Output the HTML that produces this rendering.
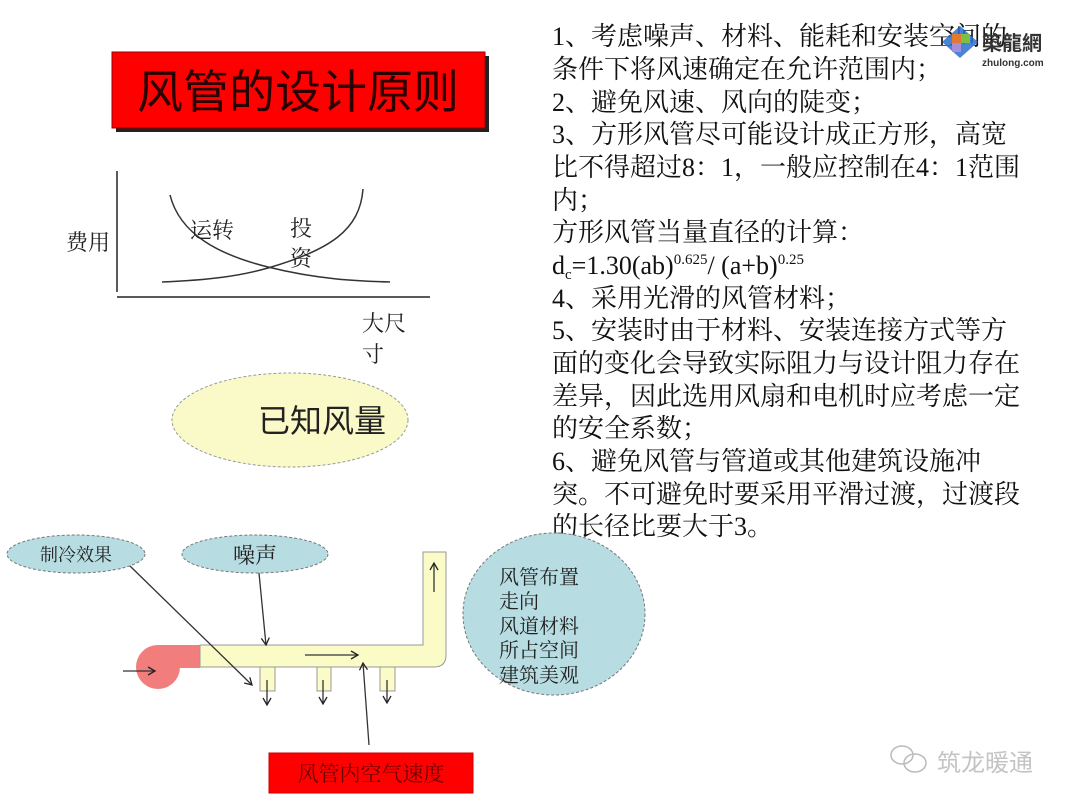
<!DOCTYPE html>
<html><head><meta charset="utf-8"><style>
body{margin:0;background:#fff;}
svg{display:block}
.t{font-family:"Liberation Serif","Noto Serif CJK SC",serif;font-size:26px;fill:#111;}
</style></head><body>
<svg width="1080" height="810" viewBox="0 0 1080 810" xmlns="http://www.w3.org/2000/svg">
<defs>
<marker id="a" markerWidth="10" markerHeight="10" refX="8" refY="5" orient="auto" markerUnits="userSpaceOnUse"><path d="M1,1 L8,5 L1,9" fill="none" stroke="#222" stroke-width="1.3"/></marker>
</defs>
<!-- title -->
<rect x="116" y="56" width="373" height="76" fill="#222"/>
<rect x="112" y="52" width="373" height="76" fill="#ff0000" stroke="#900" stroke-width="1"/>
<text x="298" y="108" text-anchor="middle" font-family="Noto Sans CJK SC, sans-serif" font-size="46" fill="#2a0000">风管的设计原则</text>
<!-- chart -->
<line x1="117" y1="171" x2="117" y2="292" stroke="#222" stroke-width="1.5"/>
<line x1="117" y1="297" x2="430" y2="297" stroke="#222" stroke-width="1.5"/>
<path d="M170,195 C180,235 220,255 268,267 C320,280 360,281 390,282" fill="none" stroke="#333" stroke-width="1.5"/>
<path d="M162,282 C210,280 240,276 268,268 C330,250 360,230 363,189" fill="none" stroke="#333" stroke-width="1.5"/>
<g font-family="Liberation Serif, Noto Serif CJK SC, serif" font-size="22" fill="#222">
<text x="190" y="238">运转</text>
<text x="290" y="236">投</text>
<text x="290" y="266">资</text>
<text x="66" y="250">费用</text>
<text x="362" y="331">大尺</text>
<text x="362" y="362">寸</text>
</g>
<ellipse cx="290" cy="420" rx="118" ry="47" fill="#fafac8" stroke="#999" stroke-dasharray="3,2"/>
<text x="322" y="432" text-anchor="middle" font-family="Liberation Sans, Noto Sans CJK SC, sans-serif" font-size="32" fill="#222">已知风量</text>
<!-- right text -->
<g class="t">
<text x="552" y="45">1、考虑噪声、材料、能耗和安装空间的</text>
<text x="552" y="78">条件下将风速确定在允许范围内；</text>
<text x="552" y="111">2、避免风速、风向的陡变；</text>
<text x="552" y="143">3、方形风管尽可能设计成正方形，高宽</text>
<text x="552" y="176">比不得超过8：1，一般应控制在4：1范围</text>
<text x="552" y="209">内；</text>
<text x="552" y="241">方形风管当量直径的计算：</text>
<text x="552" y="274">d<tspan font-size="15" dy="5">c</tspan><tspan dy="-5">=1.30(ab)</tspan><tspan font-size="15" dy="-10">0.625</tspan><tspan dy="10">/ (a+b)</tspan><tspan font-size="15" dy="-10">0.25</tspan></text>
<text x="552" y="307">4、采用光滑的风管材料；</text>
<text x="552" y="339">5、安装时由于材料、安装连接方式等方</text>
<text x="552" y="372">面的变化会导致实际阻力与设计阻力存在</text>
<text x="552" y="405">差异，因此选用风扇和电机时应考虑一定</text>
<text x="552" y="437">的安全系数；</text>
<text x="552" y="470">6、避免风管与管道或其他建筑设施冲</text>
<text x="552" y="503">突。不可避免时要采用平滑过渡，过渡段</text>
<text x="552" y="535">的长径比要大于3。</text>
</g>
<!-- logo -->
<g transform="translate(960,42)">
<path d="M-18,0 L0,-16 L18,0 L0,16 Z" fill="#2a6fd0" opacity="0.85"/>
<rect x="-8" y="-8" width="9" height="9" fill="#e07a30"/>
<rect x="1" y="-8" width="9" height="9" fill="#7bc043"/>
<rect x="-8" y="1" width="9" height="9" fill="#a58ed8"/>
</g>
<text x="982" y="50" font-family="Noto Sans CJK SC, sans-serif" font-weight="bold" font-size="20" fill="#333">築龍網</text>
<text x="982" y="66" font-family="Liberation Sans, sans-serif" font-weight="bold" font-size="10" fill="#333">zhulong.com</text>
<!-- bottom diagram -->
<ellipse cx="76" cy="554" rx="69" ry="19" fill="#b7dde3" stroke="#777" stroke-dasharray="3,2"/>
<text x="76" y="561" text-anchor="middle" font-family="Liberation Serif, Noto Serif CJK SC, serif" font-size="18" fill="#222">制冷效果</text>
<ellipse cx="255" cy="554" rx="73" ry="19" fill="#b7dde3" stroke="#777" stroke-dasharray="3,2"/>
<text x="255" y="563" text-anchor="middle" font-family="Liberation Serif, Noto Serif CJK SC, serif" font-size="22" fill="#222">噪声</text>
<ellipse cx="554" cy="614" rx="91" ry="81" fill="#b7dde3" stroke="#777" stroke-dasharray="3,2"/>
<g font-family="Liberation Serif, Noto Serif CJK SC, serif" font-size="20" fill="#222">
<text x="499" y="584">风管布置</text>
<text x="499" y="608">走向</text>
<text x="499" y="633">风道材料</text>
<text x="499" y="657">所占空间</text>
<text x="499" y="682">建筑美观</text>
</g>
<!-- fan -->
<circle cx="158" cy="667" r="22" fill="#f27d7d"/>
<rect x="158" y="645" width="42" height="23" fill="#f27d7d"/>
<line x1="123" y1="671" x2="155" y2="671" stroke="#333" stroke-width="1.3" marker-end="url(#a)"/>
<!-- duct -->
<path d="M200,645 L423,645 L423,552 L446,552 L446,655 Q446,667 434,667 L200,667 Z" fill="#fbfbc8" stroke="#999" stroke-width="1"/>
<rect x="260" y="667" width="15" height="24" fill="#fbfbc8" stroke="#999"/>
<rect x="317" y="667" width="14" height="24" fill="#fbfbc8" stroke="#999"/>
<rect x="380" y="667" width="15" height="24" fill="#fbfbc8" stroke="#999"/>
<g stroke="#333" stroke-width="1.3" fill="none">
<line x1="267" y1="680" x2="267" y2="705" marker-end="url(#a)"/>
<line x1="323" y1="680" x2="323" y2="704" marker-end="url(#a)"/>
<line x1="387" y1="680" x2="387" y2="703" marker-end="url(#a)"/>
<line x1="305" y1="655" x2="358" y2="655" marker-end="url(#a)"/>
<line x1="434" y1="592" x2="434" y2="563" marker-end="url(#a)"/>
<line x1="130" y1="566" x2="252" y2="685" marker-end="url(#a)"/>
<line x1="259" y1="573" x2="266" y2="645" marker-end="url(#a)"/>
<line x1="369" y1="745" x2="363" y2="663" marker-end="url(#a)"/>
</g>
<rect x="269" y="753" width="204" height="40" fill="#ff0000" stroke="#c00"/>
<text x="371" y="781" text-anchor="middle" font-family="Liberation Serif, Noto Serif CJK SC, serif" font-size="21" fill="#6a0000">风管内空气速度</text>
<!-- wechat -->
<g fill="none" stroke="#bbb" stroke-width="1.5">
<ellipse cx="902" cy="755" rx="11" ry="9"/>
<ellipse cx="915" cy="763" rx="11" ry="9"/>
</g>
<text x="937" y="771" font-family="Noto Sans CJK SC, sans-serif" font-size="24" fill="#c4c4c4">筑龙暖通</text>
</svg>
</body></html>
